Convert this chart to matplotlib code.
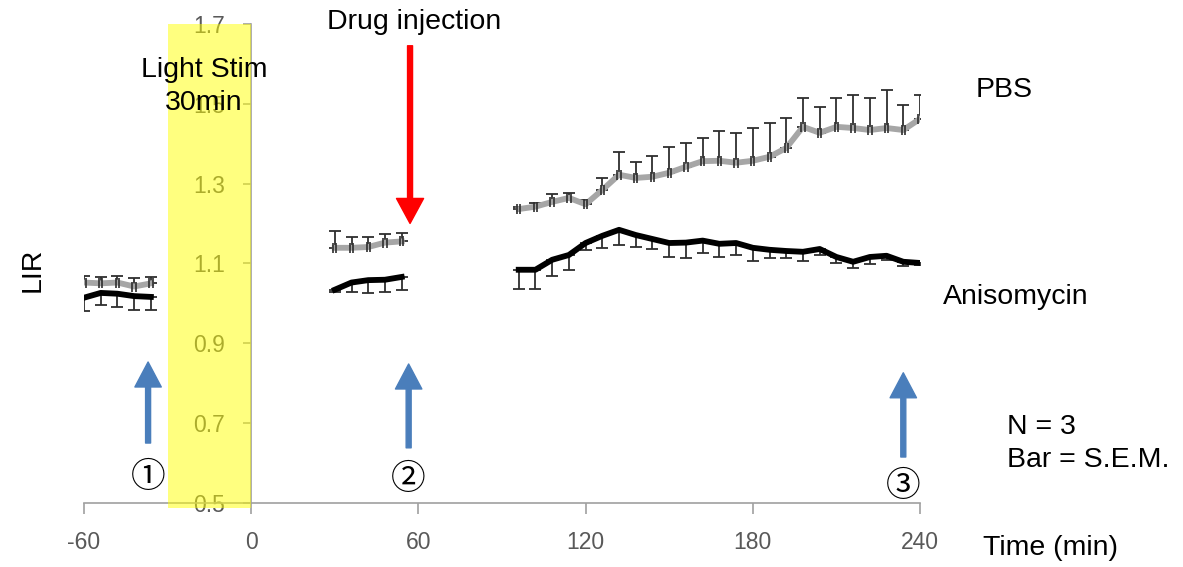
import matplotlib
matplotlib.use("Agg")
import matplotlib.pyplot as plt
from matplotlib.patches import Rectangle, FancyArrowPatch

plt.rcParams['font.family'] = ['Liberation Sans', 'DejaVu Sans']
plt.rcParams['axes.unicode_minus'] = False

# baseline (before light stim)
t1 = [-60, -54, -48, -42, -36]
pbs1 = [1.052, 1.050, 1.052, 1.042, 1.050]
pbs1_err = [0.017, 0.017, 0.017, 0.022, 0.017]
ani1 = [1.014, 1.026, 1.024, 1.018, 1.016]
ani1_err = [0.033, 0.030, 0.033, 0.035, 0.033]

# after light stim, before drug
t2 = [30, 36, 42, 48, 54]
pbs2 = [1.139, 1.139, 1.141, 1.152, 1.155]
pbs2_err = [0.042, 0.027, 0.025, 0.022, 0.020]
ani2 = [1.034, 1.052, 1.058, 1.059, 1.066]
ani2_err = [0.006, 0.024, 0.032, 0.030, 0.032]

# after drug injection
t3 = [96, 102, 108, 114, 120, 126, 132, 138, 144, 150, 156, 162, 168,
      174, 180, 186, 192, 198, 204, 210, 216, 222, 228, 234, 240]
pbs3 = [1.236, 1.242, 1.254, 1.264, 1.248, 1.284, 1.322, 1.314, 1.317,
        1.327, 1.342, 1.356, 1.357, 1.352, 1.357, 1.367, 1.389, 1.442,
        1.427, 1.442, 1.439, 1.434, 1.439, 1.434, 1.462]
pbs3_err = [0.005, 0.010, 0.020, 0.012, 0.010, 0.030, 0.057, 0.040, 0.052,
            0.065, 0.060, 0.058, 0.075, 0.075, 0.082, 0.085, 0.075, 0.073,
            0.065, 0.073, 0.083, 0.081, 0.096, 0.063, 0.060]
ani3 = [1.084, 1.084, 1.109, 1.121, 1.151, 1.169, 1.184, 1.171, 1.161,
        1.151, 1.152, 1.157, 1.149, 1.151, 1.139, 1.134, 1.131, 1.129,
        1.136, 1.116, 1.104, 1.116, 1.119, 1.104, 1.101]
ani3_err = [0.048, 0.048, 0.040, 0.037, 0.017, 0.030, 0.038, 0.030, 0.025,
            0.035, 0.038, 0.030, 0.033, 0.030, 0.033, 0.020, 0.017, 0.023,
            0.015, 0.015, 0.015, 0.017, 0.010, 0.010, 0.005]

segments = [(t1, pbs1, pbs1_err, ani1, ani1_err),
            (t2, pbs2, pbs2_err, ani2, ani2_err),
            (t3, pbs3, pbs3_err, ani3, ani3_err)]

xticks = [-60, 0, 60, 120, 180, 240]
yticks = [0.5, 0.7, 0.9, 1.1, 1.3, 1.5, 1.7]

fig = plt.figure(figsize=(11.83, 5.67), dpi=100)
ax = fig.add_axes([0.071, 0.113, 0.7067, 0.845])

ecol = '#2e2e2e'
for t, p, pe, a, ae in segments:
    # PBS: upper error bars only, Anisomycin: lower only
    ax.errorbar(t, p, yerr=[[0] * len(pe), pe], fmt='none', ecolor=ecol,
                elinewidth=1.3, capsize=4.5, capthick=1.3, zorder=2)
    ax.errorbar(t, a, yerr=[ae, [0] * len(ae)], fmt='none', ecolor=ecol,
                elinewidth=1.3, capsize=4.5, capthick=1.3, zorder=2)
    ax.plot(t, p, color='#a6a6a6', lw=4.2, solid_joinstyle='round', zorder=3)
    ax.plot(t, a, color='black', lw=4.2, solid_joinstyle='round', zorder=3)
    # small x error caps on the PBS points
    _, caps, bars = ax.errorbar(t, p, xerr=0.6, fmt='none', ecolor=ecol,
                                elinewidth=1, capsize=3.5, capthick=1.2, zorder=4)
    for b in bars:
        b.set_visible(False)

ax.set_xlim(-60, 240)
ax.set_ylim(0.5, 1.7)
ax.set_xticks(xticks)
ax.set_yticks(yticks)
ax.set_yticklabels([f"{v:.1f}" for v in yticks])

for side in ['top', 'right']:
    ax.spines[side].set_visible(False)
ax.spines['left'].set_position(('data', 0))
for side in ['left', 'bottom']:
    ax.spines[side].set_color('#a0a0a0')
    ax.spines[side].set_linewidth(1.2)
ax.tick_params(axis='x', direction='out', length=8, width=1.2, color='#a0a0a0',
               labelsize=16.5, labelcolor='#595959', pad=12)
ax.tick_params(axis='y', direction='out', length=6, width=1.2, color='#a0a0a0',
               labelsize=16.5, labelcolor='#595959', pad=13)

# light stimulation period
ax.add_patch(Rectangle((-30, 0.487), 30, 1.7 - 0.487, facecolor='#ffff00',
                       alpha=0.5, edgecolor='none', zorder=2.6, clip_on=False))

fs = 20.5
ax.text(-17, 1.585, 'Light Stim', ha='center', va='center', fontsize=fs, zorder=6)
ax.text(-17, 1.502, '30min', ha='center', va='center', fontsize=fs, zorder=6)
ax.text(58.5, 1.705, 'Drug injection', ha='center', va='center', fontsize=fs,
        clip_on=False, zorder=6)
ax.text(259.8, 1.535, 'PBS', ha='left', va='center', fontsize=fs, clip_on=False)
ax.text(248.3, 1.016, 'Anisomycin', ha='left', va='center', fontsize=fs, clip_on=False)
ax.text(271.3, 0.69, 'N = 3', ha='left', va='center', fontsize=fs, clip_on=False)
ax.text(271.3, 0.608, 'Bar = S.E.M.', ha='left', va='center', fontsize=fs, clip_on=False)
ax.text(262.7, 0.387, 'Time (min)', ha='left', va='center', fontsize=fs, clip_on=False)
ax.text(-78.6, 1.084, 'LIR', ha='center', va='center', rotation=90, fontsize=fs,
        clip_on=False)

# drug injection arrow
ax.add_patch(FancyArrowPatch((57, 1.645), (57, 1.2), mutation_scale=1,
                             arrowstyle='simple,head_length=18,head_width=19.5,tail_width=3.6',
                             color='#ff0000', shrinkA=0, shrinkB=0, zorder=5, clip_on=False))

# recording time points
marks = [(-37, 0.65, 0.853, '\u2460', 0.563),
         (56.5, 0.638, 0.848, '\u2461', 0.558),
         (234, 0.615, 0.826, '\u2462', 0.540)]
for x, y0, y1, label, ly in marks:
    ax.add_patch(FancyArrowPatch((x, y0), (x, y1), mutation_scale=1,
                                 arrowstyle='simple,head_length=18,head_width=19,tail_width=3.6',
                                 color='#4a7ebb', shrinkA=0, shrinkB=0, zorder=5, clip_on=False))
    ax.text(x, ly, label, ha='center', va='center', fontsize=25,
            family=['Noto Sans CJK JP', 'DejaVu Sans'], zorder=6, clip_on=False)

fig.savefig('out.png', dpi=100)
